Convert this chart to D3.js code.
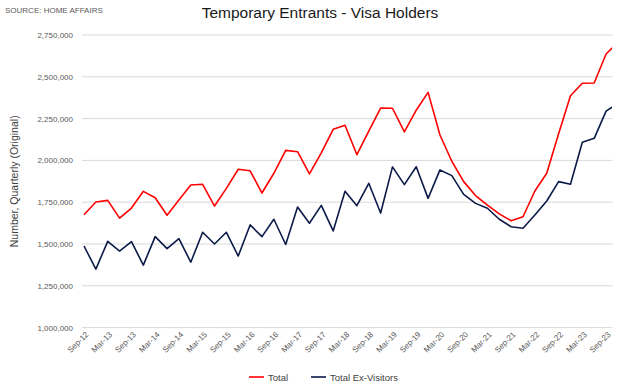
<!DOCTYPE html>
<html>
<head>
<meta charset="utf-8">
<script src="https://cdn.jsdelivr.net/npm/d3@7"></script>
<style>
body { margin: 0; background: #fff; }
text { font-family: "Liberation Sans", Arial, sans-serif; }
</style>
</head>
<body>
<script>

// quarters, Sep-12 .. Dec-23 (last one runs off the plot edge)
var quarters = ["Sep-12","Dec-12","Mar-13","Jun-13","Sep-13","Dec-13","Mar-14","Jun-14","Sep-14","Dec-14",
    "Mar-15","Jun-15","Sep-15","Dec-15","Mar-16","Jun-16","Sep-16","Dec-16","Mar-17","Jun-17",
    "Sep-17","Dec-17","Mar-18","Jun-18","Sep-18","Dec-18","Mar-19","Jun-19","Sep-19","Dec-19",
    "Mar-20","Jun-20","Sep-20","Dec-20","Mar-21","Jun-21","Sep-21","Dec-21","Mar-22","Jun-22",
    "Sep-22","Dec-22","Mar-23","Jun-23","Sep-23","Dec-23"];

var total = [1675000,1751000,1761000,1655000,1715000,1815000,1777000,1672000,1763000,1853000,
    1857000,1727000,1833000,1947000,1938000,1805000,1923000,2060000,2052000,1919000,
    2045000,2186000,2210000,2034000,2175000,2313000,2312000,2170000,2300000,2407000,
    2152000,1995000,1873000,1790000,1733000,1680000,1639000,1663000,1817000,1923000,
    2160000,2387000,2461000,2463000,2636000,2708000];

var exVisitors = [1488000,1350000,1516000,1458000,1514000,1374000,1544000,1472000,1532000,1391000,
    1570000,1500000,1570000,1428000,1614000,1544000,1648000,1497000,1721000,1624000,
    1731000,1578000,1815000,1729000,1863000,1685000,1961000,1855000,1962000,1773000,
    1943000,1909000,1797000,1743000,1714000,1648000,1603000,1594000,1673000,1757000,
    1873000,1857000,2108000,2132000,2295000,2340000];

var yTicks = [1000000,1250000,1500000,1750000,2000000,2250000,2500000,2750000];
var xTickLabels = quarters.filter(q => q.startsWith("Sep") || q.startsWith("Mar"));

var width = 638;
var height = 390;

var svg = d3.select("body")
.append("svg")
.attr("width", width)
.attr("height", height);

var xScale = d3.scaleLinear()
.domain([0, 44.5])
.range([84, 612]);

var yScale = d3.scaleLinear()
.domain([1000000, 2750000])
.range([327.6, 35]);

//Title and source
svg.append("text")
.attr("x", 5).attr("y", 12.5)
.attr("font-size", 8).attr("fill", "#595959")
.text("SOURCE: HOME AFFAIRS");

svg.append("text")
.attr("x", 320).attr("y", 18)
.attr("text-anchor", "middle")
.attr("font-size", 15.5).attr("fill", "#1a1a1a")
.text("Temporary Entrants - Visa Holders");

//Gridlines + y labels
svg.selectAll(".grid")
.data(yTicks)
.enter()
.append("line")
.attr("x1", 82).attr("x2", 612.7)
.attr("y1", d => yScale(d)).attr("y2", d => yScale(d))
.attr("stroke", "#d9d9d9").attr("stroke-width", 1);

var fmt = d3.format(",");
svg.selectAll(".ylab")
.data(yTicks)
.enter()
.append("text")
.attr("x", 73)
.attr("y", d => yScale(d) + 3)
.attr("text-anchor", "end")
.attr("font-size", 8).attr("fill", "#595959")
.text(d => fmt(d));

svg.append("text")
.attr("transform", "translate(18," + yScale(1875000) + ") rotate(-90)")
.attr("text-anchor", "middle")
.attr("font-size", 10.5).attr("fill", "#404040")
.text("Number, Quarterly (Original)");

//x labels, every second quarter
svg.selectAll(".xlab")
.data(xTickLabels)
.enter()
.append("text")
.attr("transform", d => "translate(" + (xScale(quarters.indexOf(d)) + 3) + ",333) rotate(-45)")
.attr("text-anchor", "end")
.attr("dy", "0.35em")
.attr("font-size", 8).attr("fill", "#595959")
.text(d => d);

//Lines, clipped to the plot
svg.append("clipPath").attr("id", "plot")
.append("rect")
.attr("x", 80).attr("y", 20)
.attr("width", 612 - 80).attr("height", 320);

var line = d3.line()
.x((d, i) => xScale(i))
.y(d => yScale(d));

var series = [
    {name: "Total", values: total, color: "#ff0000"},
    {name: "Total Ex-Visitors", values: exVisitors, color: "#0b1a48"}
];

series.forEach(s => {
    svg.append("path")
    .attr("d", line(s.values))
    .attr("clip-path", "url(#plot)")
    .attr("fill", "none")
    .attr("stroke", s.color)
    .attr("stroke-width", 1.6)
    .attr("stroke-linejoin", "round");
})

//Legend
var legendX = [249, 311];
series.forEach((s, i) => {
    svg.append("line")
    .attr("x1", legendX[i]).attr("x2", legendX[i] + 15)
    .attr("y1", 377).attr("y2", 377)
    .attr("stroke", s.color).attr("stroke-width", 1.6);
    svg.append("text")
    .attr("x", legendX[i] + 19).attr("y", 380.5)
    .attr("font-size", 9.5).attr("fill", "#404040")
    .text(s.name);
})

</script>
</body>
</html>
